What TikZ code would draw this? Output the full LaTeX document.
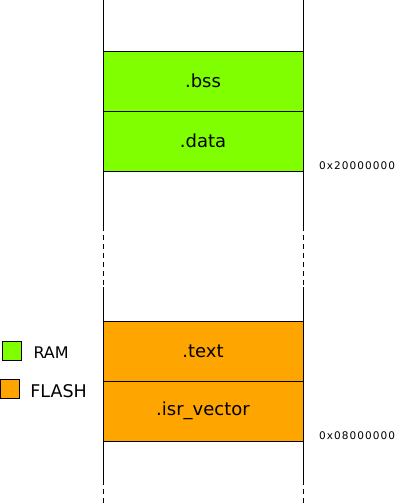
\documentclass[tikz,border=0pt]{standalone}
\usepackage{fontspec}
\setmainfont{DejaVu Sans}
\newfontfamily\addrfont[LetterSpace=10]{DejaVu Sans}
\usetikzlibrary{positioning}

\definecolor{ramgreen}{RGB}{128,255,0}
\definecolor{flashorange}{RGB}{255,165,0}

\begin{document}
\begin{tikzpicture}[
    x=1pt, y=-1pt,
    node distance=0pt,
    section/.style={rectangle, draw=black, line width=0.8pt, outer sep=0pt, inner sep=0pt, minimum width=200pt, minimum height=60pt, font=\fontsize{18}{21}\selectfont},
    ram/.style={section, fill=ramgreen},
    flash/.style={section, fill=flashorange},
    addr/.style={anchor=base west, inner sep=0pt, font=\addrfont\fontsize{10.5}{12}\selectfont},
    swatch/.style={rectangle, draw=black, line width=0.8pt, outer sep=0pt, inner sep=0pt, minimum size=19pt},
    legend/.style={inner sep=0pt, font=\fontsize{17.5}{20}\selectfont},
    side/.style={line width=0.8pt},
    gap/.style={line width=0.8pt, dash pattern=on 5pt off 4pt}
]
    \useasboundingbox (0,0) rectangle (401,503);

    % column sides
    \foreach \x in {103,303} {
        \draw[side] (\x,0) -- (\x,226);
        \draw[gap] (\x,226) -- (\x,287);
        \draw[side] (\x,287) -- (\x,480);
        \draw[gap] (\x,480) -- (\x,503);
    }

    % sections
    \node[ram] (bss) at (203,81) {.bss};
    \node[ram, below=of bss] (data) {.data};
    \node[flash, below=150pt of data] (text) {.text};
    \node[flash, below=of text] (isr) {.isr\_vector};

    % addresses
    \node[addr] (ramaddr) at ([xshift=16pt, yshift=2pt]data.south east) {0x20000000};
    \node[addr] (flashaddr) at ([xshift=16pt, yshift=2pt]isr.south east) {0x08000000};

    % legend
    \node[swatch, fill=ramgreen] (ramkey) at (12.2,351.3) {};
    \node[swatch, fill=flashorange] (flashkey) at (10,389) {};
    \node[legend, font=\fontsize{16}{18}\selectfont, right=11.6pt of ramkey, yshift=-1.5pt] (ramlabel) {RAM};
    \node[legend, right=10.7pt of flashkey, yshift=-2pt] (flashlabel) {FLASH};
\end{tikzpicture}
\end{document}
